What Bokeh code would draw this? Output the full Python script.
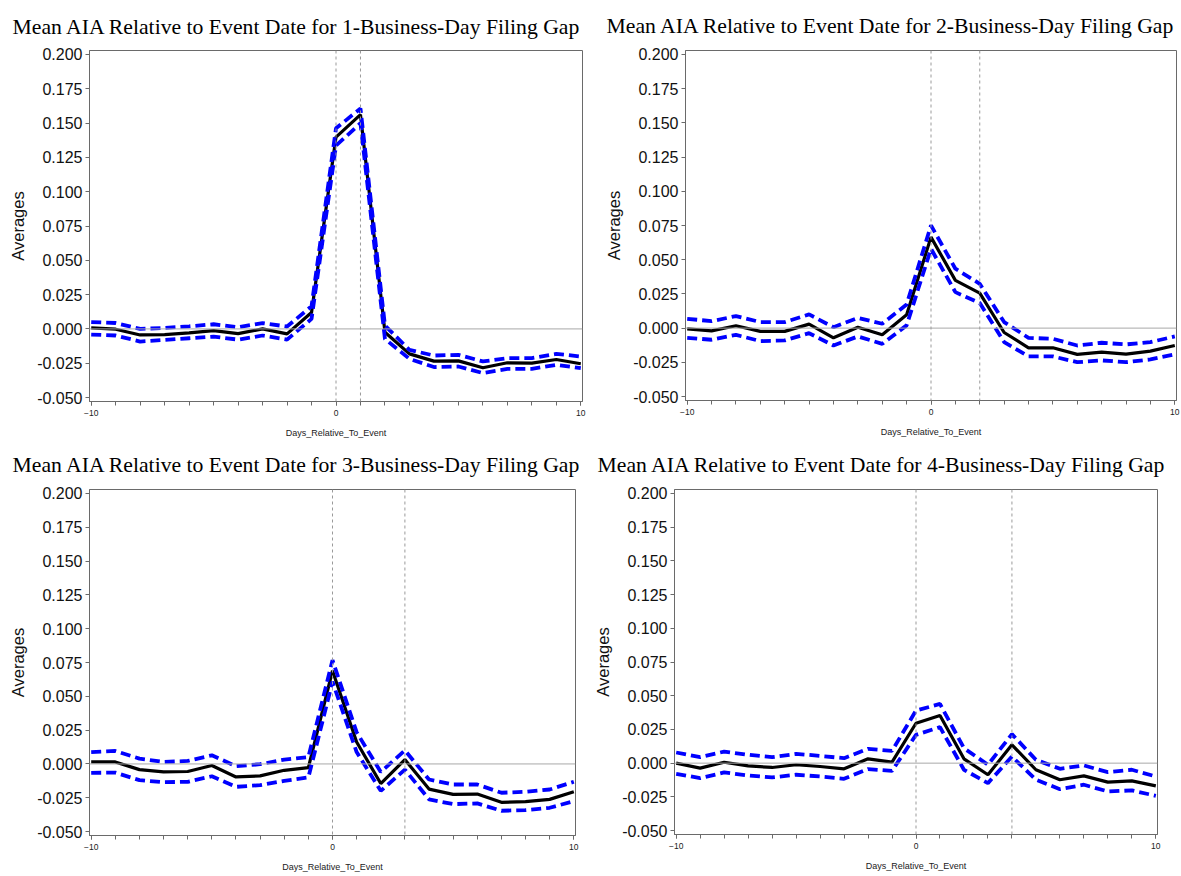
from bokeh.plotting import figure
from bokeh.layouts import column, row
from bokeh.models import Range1d, FixedTicker, NumeralTickFormatter, Span, Title
from bokeh.embed import file_html
from bokeh.resources import INLINE

days = list(range(-10, 11))
gap_days = [1, 2, 3, 4]
titles = [f"Mean AIA Relative to Event Date for {g}-Business-Day Filing Gap" for g in gap_days]
y_ticks = [-0.05, -0.025, 0.0, 0.025, 0.05, 0.075, 0.1, 0.125, 0.15, 0.175, 0.2]
x_label_ticks = [-10, 0, 10]

mean1 = [0.0007, -0.0002, -0.0044, -0.0041, -0.0029, -0.0012, -0.0034, 0.0000, -0.0036, 0.0120, 0.1398,
         0.1562, -0.0024, -0.0182, -0.0235, -0.0233, -0.0283, -0.0247, -0.0249, -0.0223, -0.0254]
upper1 = [0.0050, 0.0043, 0.0000, 0.0007, 0.0019, 0.0034, 0.0012, 0.0043, 0.0017, 0.0165, 0.1462,
          0.1606, 0.0024, -0.0153, -0.0194, -0.0189, -0.0237, -0.0213, -0.0213, -0.0182, -0.0201]
lower1 = [-0.0041, -0.0048, -0.0092, -0.0080, -0.0068, -0.0056, -0.0078, -0.0048, -0.0078, 0.0073, 0.1336,
          0.1499, -0.0073, -0.0218, -0.0278, -0.0274, -0.0322, -0.0291, -0.0291, -0.0262, -0.0286]

mean2 = [-0.0005, -0.0020, 0.0017, -0.0024, -0.0024, 0.0029, -0.0071, 0.0007, -0.0049, 0.0097, 0.0665,
         0.0349, 0.0256, -0.0032, -0.0144, -0.0144, -0.0192, -0.0175, -0.0190, -0.0168, -0.0127]
upper2 = [0.0068, 0.0051, 0.0088, 0.0044, 0.0044, 0.0100, 0.0007, 0.0075, 0.0032, 0.0173, 0.0751,
          0.0434, 0.0324, 0.0044, -0.0071, -0.0078, -0.0127, -0.0107, -0.0119, -0.0102, -0.0061]
lower2 = [-0.0071, -0.0085, -0.0049, -0.0095, -0.0090, -0.0037, -0.0127, -0.0061, -0.0115, 0.0020, 0.0580,
          0.0263, 0.0183, -0.0102, -0.0207, -0.0207, -0.0249, -0.0236, -0.0249, -0.0229, -0.0192]

mean3 = [0.0015, 0.0015, -0.0042, -0.0059, -0.0056, -0.0012, -0.0096, -0.0088, -0.0047, -0.0027, 0.0689,
         0.0162, -0.0145, 0.0032, -0.0186, -0.0225, -0.0223, -0.0284, -0.0279, -0.0262, -0.0206]
upper3 = [0.0088, 0.0096, 0.0039, 0.0015, 0.0022, 0.0064, -0.0017, -0.0002, 0.0032, 0.0051, 0.0767,
          0.0235, -0.0059, 0.0100, -0.0115, -0.0152, -0.0152, -0.0213, -0.0206, -0.0189, -0.0132]
lower3 = [-0.0066, -0.0064, -0.0120, -0.0135, -0.0132, -0.0091, -0.0169, -0.0157, -0.0125, -0.0100, 0.0608,
          0.0088, -0.0199, -0.0042, -0.0262, -0.0297, -0.0292, -0.0346, -0.0341, -0.0324, -0.0275]

mean4 = [0.0000, -0.0037, 0.0007, -0.0020, -0.0032, -0.0012, -0.0025, -0.0042, 0.0032, 0.0007, 0.0296,
         0.0353, 0.0032, -0.0086, 0.0136, -0.0049, -0.0123, -0.0094, -0.0141, -0.0131, -0.0168]
upper4 = [0.0079, 0.0044, 0.0086, 0.0062, 0.0044, 0.0069, 0.0054, 0.0037, 0.0106, 0.0091, 0.0390,
          0.0439, 0.0111, -0.0012, 0.0215, 0.0025, -0.0042, -0.0017, -0.0067, -0.0049, -0.0099]
lower4 = [-0.0079, -0.0111, -0.0069, -0.0091, -0.0106, -0.0086, -0.0099, -0.0116, -0.0044, -0.0057, 0.0210,
          0.0267, -0.0049, -0.0148, 0.0049, -0.0123, -0.0193, -0.0160, -0.0210, -0.0202, -0.0242]

means = [mean1, mean2, mean3, mean4]
uppers = [upper1, upper2, upper3, upper4]
lowers = [lower1, lower2, lower3, lower4]

# (border_left, frame_w, border_right, border_top, frame_h, border_bottom, title_offset)
geom = [
    (89, 493, 8, 48, 351, 39, -77),
    (95, 491, 5, 50, 350, 38, -79),
    (89, 486, 15, 49, 346, 43, -77),
    (84, 483, 24, 50, 345, 43, -77),
]

SERIF = "Liberation Serif"
SANS = "Liberation Sans"
AXIS_GRAY = "#6a6a6a"


def make_panel(i):
    bl, fw, br, bt, fh, bb, toff = geom[i]
    p = figure(frame_width=fw, frame_height=fh,
               min_border_left=bl, min_border_right=br, min_border_top=bt, min_border_bottom=bb,
               x_range=Range1d(-10.07, 10.07), y_range=Range1d(-0.0529, 0.2029),
               output_backend="svg", toolbar_location=None, tools="")
    p.xgrid.visible = False
    p.ygrid.visible = False
    p.outline_line_color = AXIS_GRAY
    p.outline_line_width = 1
    p.background_fill_color = "white"
    p.border_fill_color = "white"

    t = Title(text=titles[i], align="left", offset=toff, standoff=20 + (bt - 48),
              vertical_align="top",
              text_font=SERIF, text_font_size="21.7px", text_font_style="normal",
              text_color="black")
    p.add_layout(t, "above")

    # reference lines
    p.add_layout(Span(location=0, dimension="width", line_color="#a8a8a8", line_width=1))
    for loc in (0, gap_days[i]):
        p.add_layout(Span(location=loc, dimension="height", line_color="#9a9a9a",
                          line_width=1, line_dash="3 3"))

    p.line(days, means[i], line_color="black", line_width=3.2)
    p.line(days, uppers[i], line_color="#0000ff", line_width=3.8, line_dash="10 5")
    p.line(days, lowers[i], line_color="#0000ff", line_width=3.8, line_dash="10 5")

    # y axis
    ya = p.yaxis[0]
    ya.ticker = FixedTicker(ticks=y_ticks)
    ya.formatter = NumeralTickFormatter(format="0.000")
    ya.axis_label = "Averages"
    ya.axis_label_text_font = SANS
    ya.axis_label_text_font_size = "16.5px"
    ya.axis_label_text_font_style = "normal"
    ya.axis_label_text_color = "#111111"
    ya.axis_label_standoff = 7
    ya.major_label_text_font = SANS
    ya.major_label_text_font_size = "16px"
    ya.major_label_text_color = "#111111"
    ya.major_label_standoff = 3
    ya.major_tick_out = 4
    ya.major_tick_in = 0
    ya.minor_tick_out = 0
    ya.minor_tick_in = 0
    ya.axis_line_color = AXIS_GRAY
    ya.major_tick_line_color = AXIS_GRAY

    # x axis
    xa = p.below[0]
    xa.ticker = FixedTicker(ticks=x_label_ticks, minor_ticks=days)
    xa.axis_label = "Days_Relative_To_Event"
    xa.axis_label_text_font = SANS
    xa.axis_label_text_font_size = "9px"
    xa.axis_label_text_font_style = "normal"
    xa.axis_label_text_color = "#222222"
    xa.axis_label_standoff = 9
    xa.major_label_text_font = SANS
    xa.major_label_text_font_size = "8.5px"
    xa.major_label_text_color = "#222222"
    xa.major_label_standoff = 4
    xa.major_tick_out = 4
    xa.major_tick_in = 0
    xa.minor_tick_out = 4
    xa.minor_tick_in = 0
    xa.axis_line_color = AXIS_GRAY
    xa.major_tick_line_color = AXIS_GRAY
    xa.minor_tick_line_color = AXIS_GRAY
    return p


panels = [make_panel(i) for i in range(4)]
layout = column(row(panels[0], panels[1], spacing=0), row(panels[2], panels[3], spacing=0), spacing=0)

open("out.html", "w").write(file_html(layout, INLINE))
